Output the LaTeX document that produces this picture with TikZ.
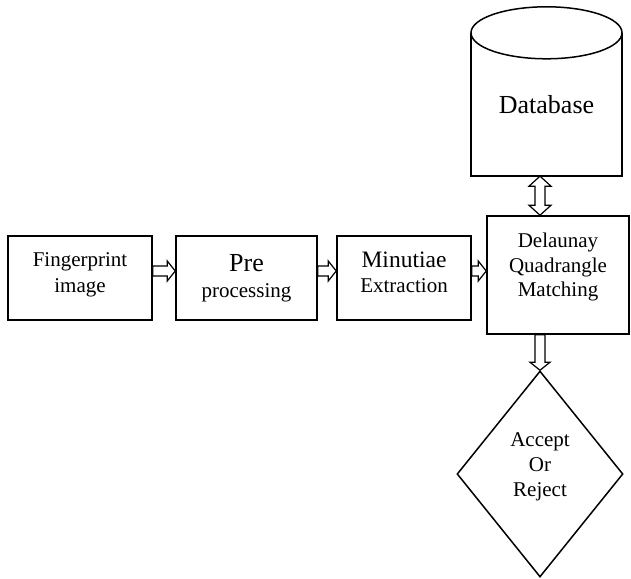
\documentclass[tikz,border=0pt]{standalone}
\usepackage{fontspec}
\setmainfont{Liberation Serif}
\usetikzlibrary{shapes.geometric,calc}

\tikzset{
  box/.style={draw, line width=1.5pt, rectangle, inner sep=0pt},
  txt/.style={align=center, inner sep=0pt, font=\fontsize{21}{26}\selectfont},
  hollow/.style={draw, line width=1.2pt, fill=white, line join=miter},
  % hollow block arrow pointing right, start and target at the same height
  harrow/.style={to path={let \p1=(\tikztostart), \p2=(\tikztotarget) in
    (\x1,\y1+5pt) -- (\x2-8pt,\y1+5pt) -- (\x2-8pt,\y1+10pt) -- (\x2,\y1)
    -- (\x2-8pt,\y1-10pt) -- (\x2-8pt,\y1-5pt) -- (\x1,\y1-5pt) -- cycle}},
  % hollow block arrow pointing down
  varrow/.style={to path={let \p1=(\tikztostart), \p2=(\tikztotarget) in
    (\x1-5pt,\y1) -- (\x1-5pt,\y2+8pt) -- (\x1-10pt,\y2+8pt) -- (\x1,\y2)
    -- (\x1+10pt,\y2+8pt) -- (\x1+5pt,\y2+8pt) -- (\x1+5pt,\y1) -- cycle}},
  % hollow vertical block arrow with a head at each end
  dvarrow/.style={to path={let \p1=(\tikztostart), \p2=(\tikztotarget) in
    (\x1,\y1) -- (\x1+11pt,\y1-10pt) -- (\x1+5pt,\y1-10pt) -- (\x1+5pt,\y2+10pt)
    -- (\x1+11pt,\y2+10pt) -- (\x1,\y2) -- (\x1-11pt,\y2+10pt) -- (\x1-5pt,\y2+10pt)
    -- (\x1-5pt,\y1-10pt) -- (\x1-11pt,\y1-10pt) -- cycle}}
}

\begin{document}
\begin{tikzpicture}[x=1pt, y=1pt]
\useasboundingbox (0,0) rectangle (631,578);

% processing stages
\node[box, minimum width=144pt, minimum height=84pt] (b1) at (80,300) {};
\node[box, minimum width=141pt, minimum height=84pt] (b2) at (246.5,300) {};
\node[box, minimum width=134pt, minimum height=84pt] (b3) at (404,300) {};
\node[box, minimum width=142pt, minimum height=118pt] (b4) at (558,303) {};

\node[txt] (t1) at ([yshift=3pt]b1.center) {Fingerprint\\image};
\node[txt] (t2) at (b2.center) {{\fontsize{26}{26}\selectfont Pre}\\processing};
\node[txt, font=\fontsize{21}{25}\selectfont] (t3) at ([yshift=5.5pt]b3.center)
  {{\fontsize{23.5}{25}\selectfont Minutiae}\\Extraction};
\node[txt, font=\fontsize{21}{24.5}\selectfont] (t4) at ([yshift=8pt]b4.center)
  {Delaunay\\Quadrangle\\Matching};

% database cylinder
\node[inner sep=0pt, minimum width=151pt, minimum height=143pt,
      font=\fontsize{26}{26}\selectfont] (db) at (546.5,473.5) {Database};
\draw[line width=1.5pt] (db.north west) -- (db.south west) -- (db.south east) -- (db.north east);
\draw[line width=1.5pt, fill=white] (db.north) ellipse [x radius=75.5pt, y radius=26pt];

% decision
\node[draw, diamond, line width=1.5pt, inner sep=0pt, minimum width=166pt,
      minimum height=206pt] (dec) at (540,104) {};
\node[txt, font=\fontsize{21}{25}\selectfont] (t6) at ([yshift=7pt]dec.center)
  {Accept\\Or\\Reject};

% connectors
\draw[hollow] ([yshift=7pt]b1.east) to[harrow] ([yshift=7pt]b2.west);
\draw[hollow] ([yshift=7pt]b2.east) to[harrow] ([yshift=7pt]b3.west);
\draw[hollow] ([yshift=7pt]b3.east) to[harrow] ([yshift=4pt]b4.west);
\draw[hollow] (db.south -| dec.north) to[dvarrow] (b4.north -| dec.north);
\draw[hollow] (b4.south -| dec.north) to[varrow] (dec.north);
\end{tikzpicture}
\end{document}
